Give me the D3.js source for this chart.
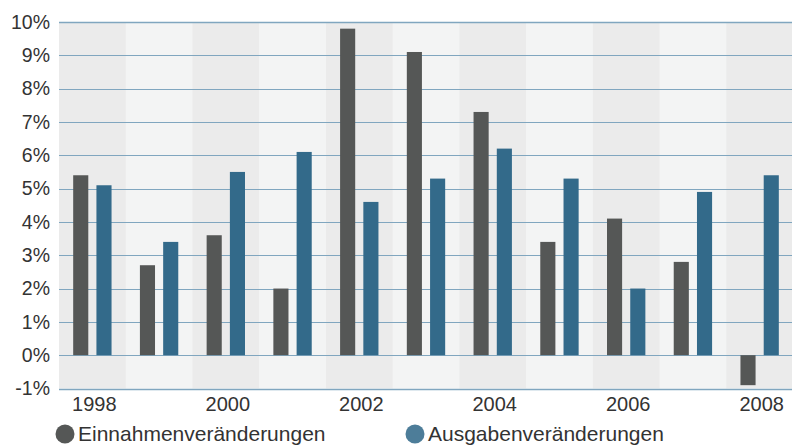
<!DOCTYPE html>
<html>
<head>
<meta charset="utf-8">
<script src="https://cdn.jsdelivr.net/npm/d3@7"></script>
<style>
  html, body { margin: 0; padding: 0; background: #ffffff; }
  svg { display: block; }
  text { font-family: "Liberation Sans", Arial, sans-serif; fill: #333333; }
</style>
</head>
<body>
<svg id="chart" width="792" height="446"></svg>
<script>
// Jährliche Veränderungsraten (in %)
const years = ["1998", "1999", "2000", "2001", "2002", "2003", "2004", "2005", "2006", "2007", "2008"];
const einnahmen = [5.4, 2.7, 3.6, 2.0, 9.8, 9.1, 7.3, 3.4, 4.1, 2.8, -0.9];
const ausgaben = [5.1, 3.4, 5.5, 6.1, 4.6, 5.3, 6.2, 5.3, 2.0, 4.9, 5.4];
const seriesNames = ["Einnahmenveränderungen", "Ausgabenveränderungen"];
const yTicks = [-1, 0, 1, 2, 3, 4, 5, 6, 7, 8, 9, 10];
const xLabels = ["1998", "2000", "2002", "2004", "2006", "2008"];

const colors = ["#555756", "#336a8a"];
const bandFill = ["#ebebeb", "#f3f4f4"];
const gridColor = "#80a6bf";

const svg = d3.select("#chart");
const plotLeft = 59, plotRight = 793, plotTop = 22, plotBottom = 388.5;

const x = d3.scaleBand().domain(years).range([plotLeft, plotRight]).padding(0);
const y = d3.scaleLinear().domain([-1, 10]).range([plotBottom, plotTop]);
const inner = d3.scaleBand().domain([0, 1]).range([0, x.bandwidth()]).paddingInner(0.35).paddingOuter(0.61);

// alternating column backgrounds
svg.append("g").selectAll("rect").data(years).join("rect")
  .attr("x", d => x(d))
  .attr("y", y(10))
  .attr("width", x.bandwidth() + 0.5)
  .attr("height", y(-1) - y(10))
  .attr("fill", (d, i) => bandFill[i % 2]);

// horizontal gridlines
svg.append("g").selectAll("line").data(yTicks).join("line")
  .attr("x1", plotLeft).attr("x2", plotRight)
  .attr("y1", d => Math.round(y(d)) + 0.5)
  .attr("y2", d => Math.round(y(d)) + 0.5)
  .attr("stroke", gridColor)
  .attr("stroke-width", d => (d === -1 || d === 10) ? 1.6 : 1.1);

// bars
const rows = years.map((yr, i) => ({ yr, vals: [einnahmen[i], ausgaben[i]] }));
const groups = svg.append("g").selectAll("g").data(rows).join("g")
  .attr("transform", d => `translate(${x(d.yr)},0)`);
groups.selectAll("rect").data(d => d.vals.map((v, k) => ({ v, k }))).join("rect")
  .attr("x", d => inner(d.k))
  .attr("width", inner.bandwidth())
  .attr("y", d => y(Math.max(0, d.v)))
  .attr("height", d => Math.abs(y(d.v) - y(0)))
  .attr("fill", d => colors[d.k]);

// y axis labels
const yAxis = d3.axisLeft(y).tickValues(yTicks).tickSize(0).tickPadding(0)
  .tickFormat(d => d + "%");
const yg = svg.append("g").attr("transform", `translate(${plotLeft - 9},0)`).call(yAxis);
yg.select(".domain").remove();
yg.selectAll("text").attr("font-size", 19.5).attr("fill", "#333333")
  .style("font-family", "'Liberation Sans', Arial, sans-serif");

// x axis labels
const xAxis = d3.axisBottom(x).tickValues(xLabels).tickSize(0).tickPadding(0);
const xg = svg.append("g").attr("transform", `translate(2,${plotBottom + 8})`).call(xAxis);
xg.select(".domain").remove();
xg.selectAll("text").attr("font-size", 20).attr("fill", "#333333")
  .style("font-family", "'Liberation Sans', Arial, sans-serif");

// legend
const legendX = [65, 415];
const lg = svg.append("g").selectAll("g").data(seriesNames).join("g")
  .attr("transform", (d, i) => `translate(${legendX[i]},434)`);
lg.append("circle").attr("r", 9.5).attr("fill", (d, i) => i === 0 ? "#555756" : "#4d7d99");
lg.append("text").attr("x", 13).attr("dy", "0.35em").attr("font-size", 21).text(d => d);
</script>
</body>
</html>
